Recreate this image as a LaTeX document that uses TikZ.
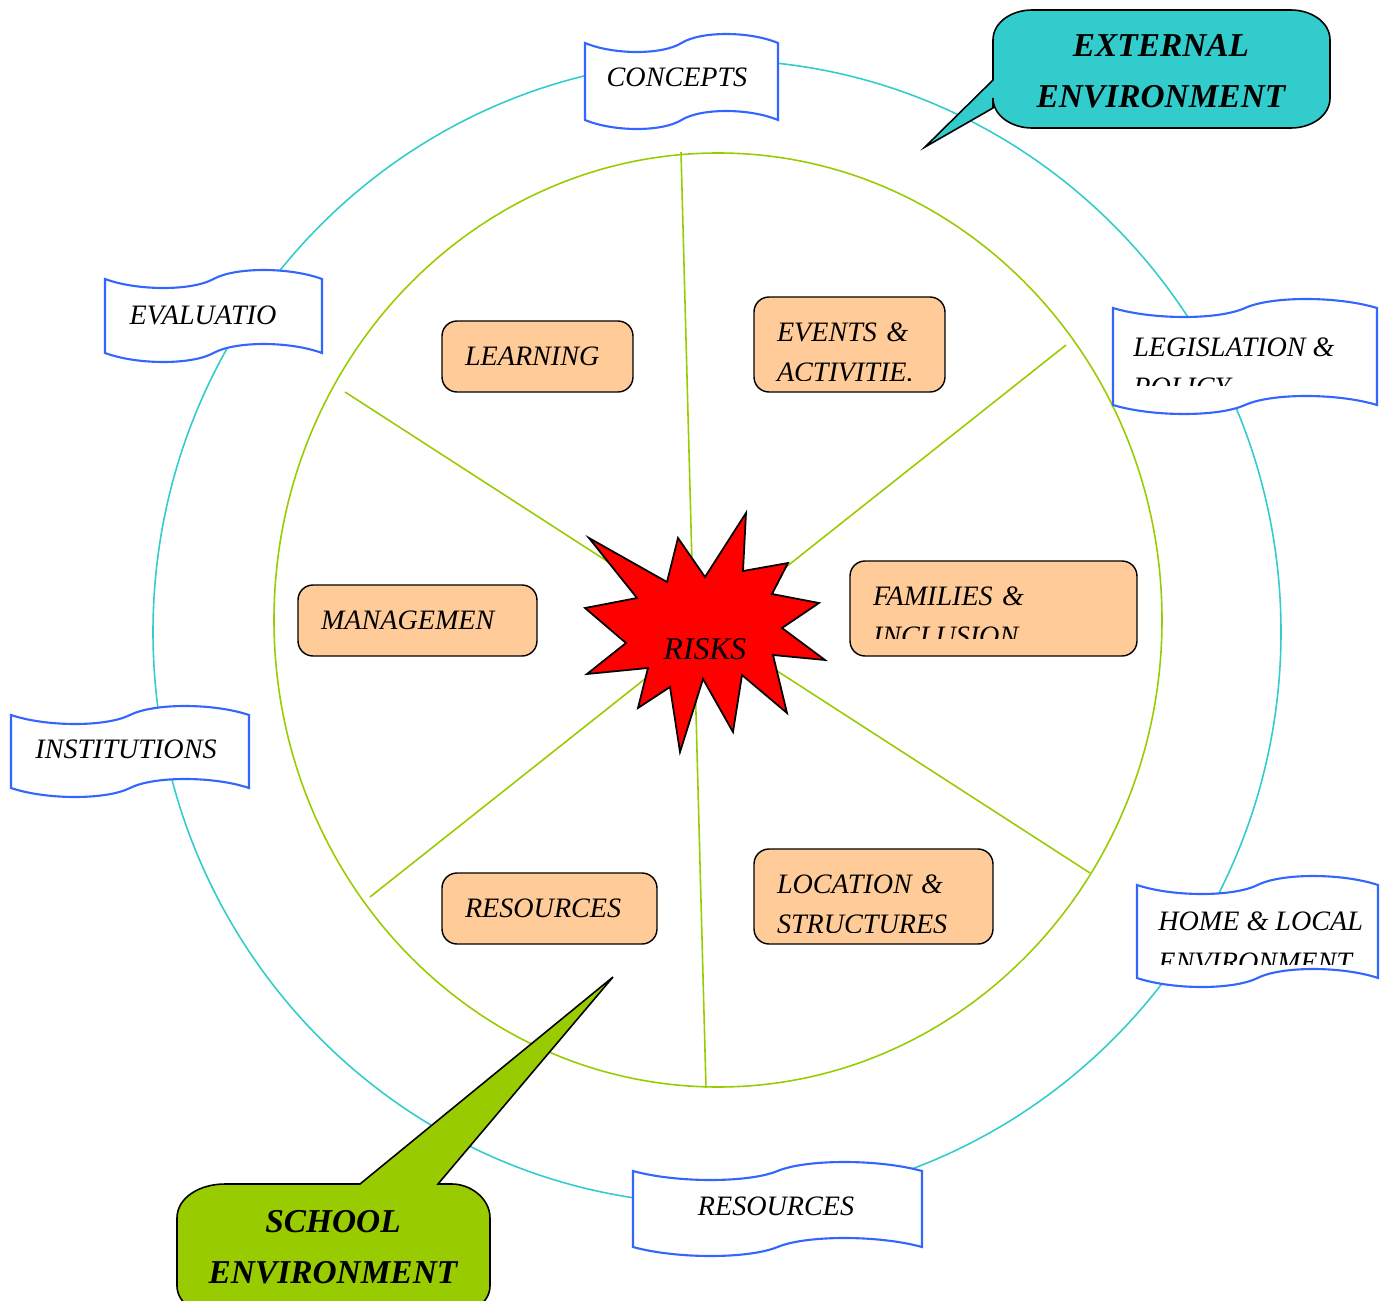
\documentclass[tikz,border=0pt]{standalone}
\usepackage{fontspec}
\setmainfont{Liberation Serif}
\definecolor{ringteal}{HTML}{33CCCC}
\definecolor{ringgreen}{HTML}{99CC00}
\definecolor{flagblue}{HTML}{3366FF}
\definecolor{peach}{HTML}{FFCC99}
\definecolor{alarm}{HTML}{FF0000}
\newcommand\hand{\fontsize{16}{23}\selectfont\itshape}
\tikzset{
  ring/.style={line width=.9pt},
  flag/.style={draw=flagblue,fill=white,line width=1.2pt},
  word/.style={font=\hand,inner sep=0pt,align=left},
  tile/.style={draw=black,rounded corners=.3cm,fill=peach,line width=.8pt,
    align=left,inner xsep=.46cm,inner ysep=0pt,font=\hand},
  tiletext/.style={tile,draw=none,fill=none,yshift=-.16cm},
  burst/.style={draw=black,fill=alarm,line width=1pt,line join=miter},
  bubble/.style={draw=black,line width=.9pt},
  callword/.style={font=\fontsize{19}{29}\selectfont\bfseries\itshape,align=center}
}
% wavy banner: left x, top y, width, height
\newcommand\drawflag[4]{%
  \draw[flag,shift={(#1,#2)}] (0,0)
    .. controls (0.15*#3,12) and (0.40*#3,12) .. (0.5*#3,0)
    .. controls (0.60*#3,-12) and (0.85*#3,-12) .. (#3,0)
    -- (#3,#4)
    .. controls (0.85*#3,#4-12) and (0.60*#3,#4-12) .. (0.5*#3,#4)
    .. controls (0.40*#3,#4+12) and (0.15*#3,#4+12) .. (0,#4) -- cycle;}

\begin{document}
\begin{tikzpicture}[x=0.02cm,y=-0.02cm]
\useasboundingbox (0,0) rectangle (1387,1301);
\clip (0,0) rectangle (1387,1301);

% rings and spokes
\draw[ring,draw=ringteal] (717,632) ellipse [x radius=564,y radius=572];
\draw[ring,draw=ringgreen] (718,620) ellipse [x radius=444,y radius=467];
\draw[ring,draw=ringgreen] (681,152) -- (706,1088);
\draw[ring,draw=ringgreen] (1066,345) -- (370,897);
\draw[ring,draw=ringgreen] (345,392) -- (1090,873);

% outer banners
\drawflag{585}{43}{193}{77}
\node[word] (concepts) at (677,77) {CONCEPTS};
\drawflag{105}{279}{217}{74}
\node[word] (evaluatio) at (203,315) {EVALUATIO};
\drawflag{11}{715}{238}{73}
\node[word] (institutions) at (126,749) {INSTITUTIONS};
\drawflag{633}{1171}{289}{76}
\node[word] (resourcesout) at (776,1206) {RESOURCES};
\drawflag{1113}{308}{264}{97}
\begin{scope}
\clip (1113,290) rectangle (1377,385);
\node[word,anchor=west] (legislation) at (1133,367) {LEGISLATION \&\\POLICY};
\end{scope}
\drawflag{1137}{885}{241}{93}
\begin{scope}
\clip (1137,870) rectangle (1378,964);
\node[word,anchor=west] (home) at (1158,942) {HOME \& LOCAL\\ENVIRONMENT};
\end{scope}

% centre
\draw[burst] (589,538) -- (667,582) -- (678,538) -- (705,577) -- (746,513)
  -- (743,571) -- (788,563) -- (772,594) -- (819,603) -- (782,628)
  -- (825,660) -- (773,655) -- (787,713) -- (742,675) -- (733,732)
  -- (703,679) -- (680,752) -- (670,687) -- (638,708) -- (648,668)
  -- (587,674) -- (626,643) -- (585,608) -- (637,598) -- cycle;
\node[font=\fontsize{18}{22}\selectfont\itshape] (risks) at (705,649) {RISKS};

% inner tiles
\node[tile,text width=2.90cm,minimum height=1.42cm] (learning) at (537.5,356.5) {LEARNING};
\node[tile,text width=3.86cm,minimum height=1.42cm] (management) at (417.5,620.5) {MANAGEMEN};
\node[tile,text width=3.38cm,minimum height=1.42cm] (resourcesin) at (549.5,908.5) {RESOURCES};
\node[tile,text width=2.90cm,minimum height=1.9cm] (events) at (849.5,344.5) {};
\begin{scope}
\clip (events.north west) rectangle (945,380);
\node[tiletext,text width=2.90cm,minimum height=1.9cm] (eventstext) at (events) {EVENTS \&\\ACTIVITIE.};
\end{scope}
\node[tile,text width=4.82cm,minimum height=1.9cm] (families) at (993.5,608.5) {};
\begin{scope}
\clip (families.north west) rectangle (1137,638);
\node[tiletext,text width=4.82cm,minimum height=1.9cm] (familiestext) at (families) {FAMILIES \&\\INCLUSION};
\end{scope}
\node[tile,text width=3.86cm,minimum height=1.9cm] (location) at (873.5,896.5) {};
\begin{scope}
\clip (location.north west) rectangle (993,932);
\node[tiletext,text width=3.86cm,minimum height=1.9cm] (locationtext) at (location) {LOCATION \&\\STRUCTURES};
\end{scope}

% callouts
\draw[bubble,fill=ringteal] (993,108) -- (925,147) -- (993,80) -- (993,40)
  .. controls (993,22) and (1012,10) .. (1032,10) -- (1291,10)
  .. controls (1311,10) and (1330,22) .. (1330,40) -- (1330,98)
  .. controls (1330,116) and (1311,128) .. (1291,128) -- (1032,128)
  .. controls (1012,128) and (993,116) .. (993,98) -- cycle;
\node[callword] (external) at (1161,71) {EXTERNAL\\ENVIRONMENT};
\draw[bubble,fill=ringgreen] (438,1184) -- (613,977) -- (360,1184) -- (225,1184)
  .. controls (199,1184) and (177,1198) .. (177,1218) -- (177,1286)
  .. controls (177,1304) and (199,1318) .. (225,1318) -- (442,1318)
  .. controls (468,1318) and (490,1304) .. (490,1286) -- (490,1218)
  .. controls (490,1198) and (470,1184) .. (452,1184) -- cycle;
\node[callword] (school) at (333,1247) {SCHOOL\\ENVIRONMENT};
\end{tikzpicture}
\end{document}
